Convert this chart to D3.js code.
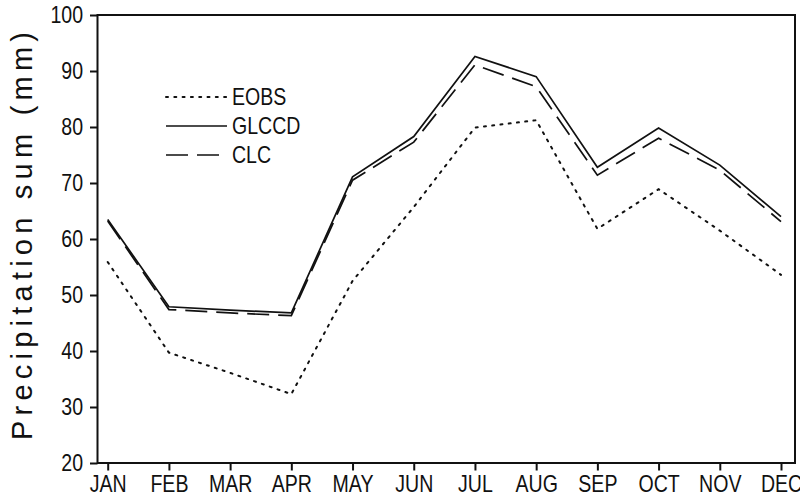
<!DOCTYPE html>
<html>
<head>
<meta charset="utf-8">
<script src="https://cdn.jsdelivr.net/npm/d3@7"></script>
<style>
	body { margin: 0; background: #fff; }
	text { font-family: "Liberation Sans", Arial, sans-serif; fill: #111; }
</style>
</head>
<body>
<div id="chart"></div>
<script>
	var months = ["JAN", "FEB", "MAR", "APR", "MAY", "JUN", "JUL", "AUG", "SEP", "OCT", "NOV", "DEC"];
	var eobs  = [55.9, 39.7, 36.1, 32.3, 52.5, 65.7, 79.9, 81.2, 61.8, 68.9, 61.5, 53.6];
	var glccd = [63.5, 47.9, 47.3, 46.8, 71.1, 78.3, 92.6, 89.0, 72.8, 79.8, 73.2, 64.0];
	var clc   = [63.2, 47.4, 46.8, 46.3, 70.5, 77.3, 91.1, 87.2, 71.4, 78.0, 72.3, 63.1];
	var yTicks = [20, 30, 40, 50, 60, 70, 80, 90, 100];

	var series = [
		{name: "EOBS", values: eobs, width: 2, dash: "2,6.3", cap: "round"},
		{name: "GLCCD", values: glccd, width: 1.7, dash: null, cap: "butt"},
		{name: "CLC", values: clc, width: 1.7, dash: "22,9", cap: "butt"}
	];

	var width = 800, height = 499;
	var frame = {left: 97.5, right: 795, top: 15, bottom: 463};
	var squeeze = 0.85; // narrow look of the original font

	var svg = d3.select("#chart")
				.append("svg")
				.attr("width", width)
				.attr("height", height);

	var x = d3.scalePoint()
			  .domain(months)
			  .range([107.7, 781]);

	var y = d3.scaleLinear()
			  .domain([20, 100])
			  .range([frame.bottom, frame.top]);

	// box
	svg.append("rect")
	   .attr("x", frame.left)
	   .attr("y", frame.top)
	   .attr("width", frame.right - frame.left)
	   .attr("height", frame.bottom - frame.top)
	   .attr("fill", "none")
	   .attr("stroke", "#111")
	   .attr("stroke-width", 2);

	var yAxis = svg.append("g")
				   .attr("transform", "translate(" + frame.left + ",0)")
				   .call(d3.axisLeft(y).tickValues(yTicks).tickSize(7.5).tickPadding(7));

	var xAxis = svg.append("g")
				   .attr("transform", "translate(0," + frame.bottom + ")")
				   .call(d3.axisBottom(x).tickSize(7.5).tickPadding(5));

	[yAxis, xAxis].forEach(function(g){
		g.select(".domain").remove();
		g.selectAll("line").attr("stroke", "#111").attr("stroke-width", 2);
		g.selectAll("text")
		 .attr("font-family", null)
		 .attr("font-size", 23)
		 .attr("fill", "#111")
		 .attr("x", function(){ return +d3.select(this).attr("x") / squeeze; })
		 .attr("transform", "scale(" + squeeze + ",1)");
	});

	svg.append("text")
	   .attr("transform", "translate(32,236) rotate(-90)")
	   .attr("text-anchor", "middle")
	   .attr("font-size", 29)
	   .attr("textLength", 408)
	   .attr("lengthAdjust", "spacing")
	   .text("Precipitation sum (mm)");

	var line = d3.line()
				 .x(function(d, i){ return x(months[i]); })
				 .y(function(d){ return y(d); });

	svg.selectAll(".series")
	   .data(series)
	   .enter().append("path")
	   .attr("class", "series")
	   .attr("d", function(d){ return line(d.values); })
	   .attr("fill", "none")
	   .attr("stroke", "#111")
	   .attr("stroke-width", function(d){ return d.width; })
	   .attr("stroke-dasharray", function(d){ return d.dash; })
	   .attr("stroke-linecap", function(d){ return d.cap; })
	   .attr("stroke-linejoin", "miter");

	var legend = svg.selectAll(".legend")
					.data(series)
					.enter().append("g")
					.attr("class", "legend")
					.attr("transform", function(d, i){ return "translate(166," + (97 + i * 29) + ")"; });

	legend.append("line")
		  .attr("x1", 0).attr("x2", 61)
		  .attr("stroke", "#111")
		  .attr("stroke-width", function(d){ return d.width; })
		  .attr("stroke-dasharray", function(d){ return d.dash; })
		  .attr("stroke-linecap", function(d){ return d.cap; });

	legend.append("text")
		  .attr("x", 66 / squeeze)
		  .attr("dy", "0.35em")
		  .attr("font-size", 23)
		  .attr("transform", "scale(" + squeeze + ",1)")
		  .text(function(d){ return d.name; });
</script>
</body>
</html>
